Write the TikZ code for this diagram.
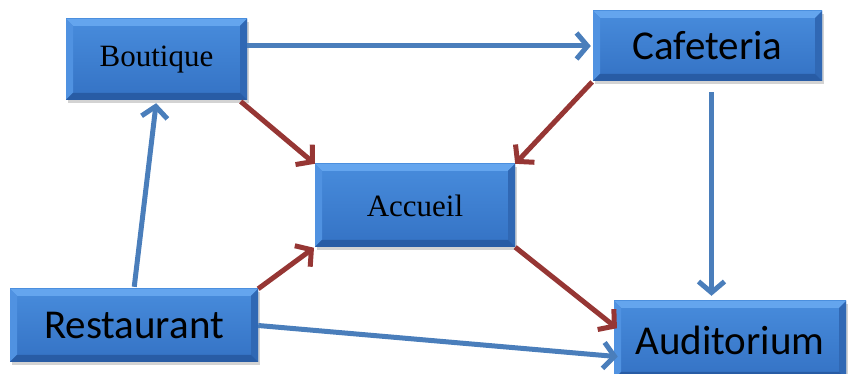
\documentclass[tikz,border=0pt]{standalone}
\usepackage{fontspec}
\newfontfamily\roomserif{Liberation Serif}
\newfontfamily\roomsans{Carlito}
\definecolor{RoomTop}{RGB}{72, 140, 220}
\definecolor{RoomBottom}{RGB}{52, 114, 196}
\definecolor{RoomLight}{RGB}{100, 165, 238}
\definecolor{RoomSide}{RGB}{80, 146, 225}
\definecolor{RoomDark}{RGB}{40, 92, 165}
\definecolor{RoomShade}{RGB}{48, 104, 180}
\definecolor{PathBlue}{RGB}{74, 126, 187}
\definecolor{PathRed}{RGB}{150, 54, 52}
\usetikzlibrary{positioning, arrows.meta, shadows}

\begin{document}
\begin{tikzpicture}[
  x=1pt, y=1pt,
  room/.style={rectangle, top color=RoomTop, bottom color=RoomBottom, align=center, inner sep=0pt,
    drop shadow={shadow xshift=2pt, shadow yshift=-3pt, opacity=0.35},
    path picture={
      \fill[RoomLight] (path picture bounding box.north west) -- (path picture bounding box.north east)
        -- ([shift={(-7pt,-7pt)}]path picture bounding box.north east) -- ([shift={(7pt,-7pt)}]path picture bounding box.north west) -- cycle;
      \fill[RoomSide] (path picture bounding box.north west) -- ([shift={(7pt,-7pt)}]path picture bounding box.north west)
        -- ([shift={(7pt,7pt)}]path picture bounding box.south west) -- (path picture bounding box.south west) -- cycle;
      \fill[RoomShade] (path picture bounding box.north east) -- ([shift={(-7pt,-7pt)}]path picture bounding box.north east)
        -- ([shift={(-7pt,7pt)}]path picture bounding box.south east) -- (path picture bounding box.south east) -- cycle;
      \fill[RoomDark] (path picture bounding box.south west) -- (path picture bounding box.south east)
        -- ([shift={(-7pt,7pt)}]path picture bounding box.south east) -- ([shift={(7pt,7pt)}]path picture bounding box.south west) -- cycle;
    }},
  smallroom/.style={room, font=\roomserif\fontsize{31}{36}\selectfont},
  bigroom/.style={room, font=\roomsans\fontsize{41}{48}\selectfont},
  bluearr/.style={-{Straight Barb[length=11pt, width=26pt]}, line width=5pt, PathBlue},
  redarr/.style={-{Straight Barb[length=11pt, width=26pt]}, line width=5pt, PathRed}
]
\useasboundingbox (0,0) rectangle (852,374);
\node[smallroom, minimum width=181pt, minimum height=81pt] (boutique) at (156.5,314.5) {Boutique};
\node[bigroom, minimum width=229pt, minimum height=70pt] (cafeteria) at (707.5,328) {Cafeteria};
\node[smallroom, minimum width=200pt, minimum height=83pt] (accueil) at (415,168.5) {Accueil};
\node[bigroom, minimum width=248pt, minimum height=73pt] (restaurant) at (134,48.5) {Restaurant};
\node[bigroom, minimum width=232pt, minimum height=78pt] (auditorium) at (730,34) {Auditorium};

\draw[bluearr] (boutique.east |- cafeteria.west) -- ([xshift=-2pt]cafeteria.west);
\draw[bluearr, shorten <=2pt, shorten >=3pt] (restaurant.north) -- (boutique.south);
\draw[bluearr, shorten <=11pt, shorten >=5pt] ([xshift=4pt]cafeteria.south) -- ([xshift=4pt]cafeteria.south |- auditorium.north);
\draw[bluearr, shorten >=-4pt] (restaurant.east) -- (auditorium.188);

\draw[redarr, shorten <=2pt] ([xshift=-8pt]boutique.south east) -- (accueil.north west);
\draw[redarr, shorten <=1pt] (cafeteria.south west) -- (accueil.north east);
\draw[redarr, shorten >=1pt] (restaurant.north east) -- (accueil.south west);
\draw[redarr, shorten >=-4pt] (accueil.south east) -- (auditorium.173);
\end{tikzpicture}
\end{document}
